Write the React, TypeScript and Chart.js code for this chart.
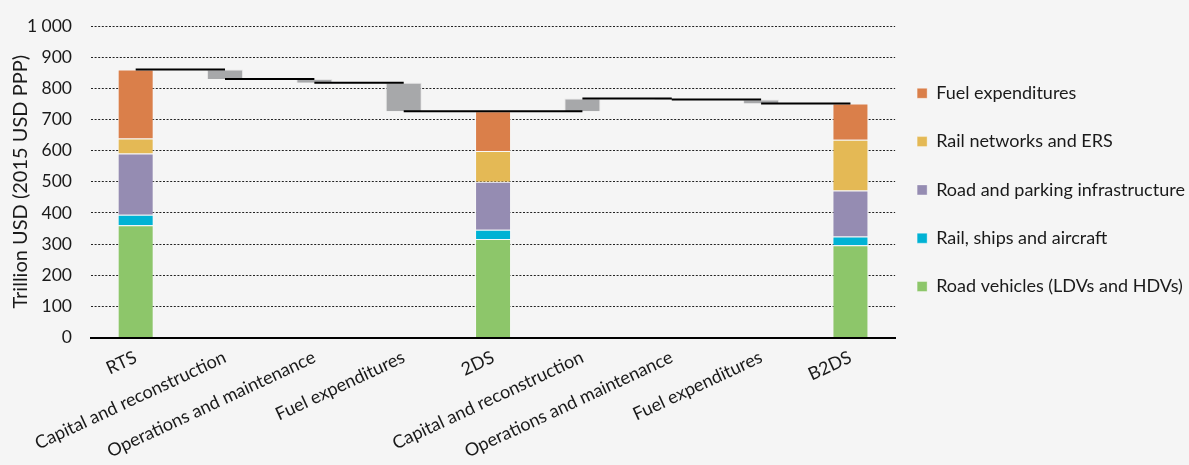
import { useEffect, useRef } from 'react';
import { Chart, registerables } from 'chart.js';

Chart.register(...registerables);

const categories = [
  'RTS',
  'Capital and reconstruction',
  'Operations and maintenance',
  'Fuel expenditures',
  '2DS',
  'Capital and reconstruction',
  'Operations and maintenance',
  'Fuel expenditures',
  'B2DS',
];

// Stacked scenario components (null at change categories)
const roadVehicles = [360, null, null, null, 316, null, null, null, 296];
const railShipsAircraft = [34, null, null, null, 30, null, null, null, 28];
const roadParking = [197, null, null, null, 154, null, null, null, 148];
const railNetworksERS = [48, null, null, null, 99, null, null, null, 163];
const fuelExpenditures = [221, null, null, null, 127, null, null, null, 116];

// Waterfall changes between scenarios (null at scenario categories)
const changes = [null, -30, -12, -92, null, 41, -3, -13, null];

const seriesNames = [
  'Road vehicles (LDVs and HDVs)',
  'Rail, ships and aircraft',
  'Road and parking infrastructure',
  'Rail networks and ERS',
  'Fuel expenditures',
];
const seriesColors = ['#8DC66A', '#00B2D4', '#958CB2', '#E4B955', '#DA7F4A'];

const yMin = 0;
const yMax = 1000;
const yStep = 100;
const yTitle = 'Trillion USD (2015 USD PPP)';

const FONT = 'Lato, "Noto Sans", sans-serif';
const TEXT = '#1a1a1a';

export default function App() {
  const ref = useRef<HTMLCanvasElement>(null);

  useEffect(() => {
    if (!ref.current) return;
    const series = [roadVehicles, railShipsAircraft, roadParking, railNetworksERS, fuelExpenditures];

    // running level through the waterfall
    const floats: (number[] | null)[] = [];
    const levels: number[] = [];
    let level = 0;
    categories.forEach((_, i) => {
      const c = changes[i];
      if (c === null) {
        level = series.reduce((s, arr) => s + (arr[i] ?? 0), 0);
        floats.push(null);
      } else {
        floats.push([level, level + c]);
        level += c;
      }
      levels.push(level);
    });

    const connector: { x: number; y: number | null }[] = [];
    for (let i = 0; i < categories.length - 1; i++) {
      connector.push({ x: i, y: levels[i] });
      connector.push({ x: i + 1, y: levels[i] });
      connector.push({ x: i + 1, y: null });
    }

    const barCommon = {
      type: 'bar' as const,
      barPercentage: 0.403,
      categoryPercentage: 1,
      grouped: false,
      borderWidth: 1,
      borderColor: 'rgba(255,255,255,0.35)',
      order: 2,
    };

    const datasets: any[] = series.map((arr, k) => ({
      ...barCommon,
      label: seriesNames[k],
      data: arr,
      backgroundColor: seriesColors[k],
      stack: 'main',
    }));

    datasets.push({
      ...barCommon,
      label: 'change',
      data: floats,
      backgroundColor: '#A7A8AA',
      borderColor: 'rgba(220,220,220,0.6)',
      stack: 'wf',
    });

    datasets.push({
      type: 'line',
      label: 'connector',
      data: connector,
      xAxisID: 'xLine',
      borderColor: '#000000',
      borderWidth: 2,
      pointRadius: 0,
      spanGaps: false,
      stack: 'line',
      order: 0,
    });

    const chart = new Chart(ref.current, {
      type: 'bar',
      data: { labels: categories, datasets },
      options: {
        responsive: false,
        animation: false,
        layout: { padding: { top: 26, right: -4.5, bottom: 0, left: 0 } },
        plugins: {
          tooltip: { enabled: false },
          legend: {
            position: 'right',
            align: 'start',
            reverse: true,
            title: { display: true, text: '', padding: { top: 0, bottom: 21.9 } },
            labels: {
              boxWidth: 10,
              boxHeight: 10,
              padding: 22,
              color: TEXT,
              font: { family: FONT, size: 18, lineHeight: '26.3px' },
              filter: (item: any) => item.datasetIndex < 5,
              generateLabels: (c: any) =>
                Chart.defaults.plugins.legend.labels
                  .generateLabels(c)
                  .map((l: any) => ({ ...l, text: [l.text] })),
            },
          },
        },
        scales: {
          x: {
            type: 'category',
            offset: true,
            grid: { display: true, drawOnChartArea: false, drawTicks: false },
            border: { display: true, color: '#000000', width: 2 },
            afterFit: (s: any) => {
              s.height = 127.5;
            },
            ticks: {
              color: TEXT,
              font: { family: FONT, size: 18 },
              minRotation: 25,
              maxRotation: 25,
              autoSkip: false,
              padding: 9,
            },
          },
          xLine: {
            type: 'linear',
            display: false,
            offset: false,
            grid: { offset: false },
            min: -0.5,
            max: categories.length - 0.5,
          },
          y: {
            stacked: true,
            min: yMin,
            max: yMax,
            grid: { color: '#222222', lineWidth: 1, drawTicks: false },
            border: { display: false, dash: [2, 1.6] },
            afterFit: (s: any) => {
              s.width = 91;
              s.paddingTop = 0;
              s.paddingBottom = 0;
            },
            ticks: {
              stepSize: yStep,
              color: TEXT,
              font: { family: FONT, size: 17.5 },
              padding: 19,
              callback: (v: any) => String(v).replace(/\B(?=(\d{3})+(?!\d))/g, ' '),
            },
            title: {
              display: true,
              text: yTitle,
              color: TEXT,
              font: { family: FONT, size: 20 },
              padding: { top: 9, bottom: 0 },
            },
          },
        },
      },
    });

    return () => chart.destroy();
  }, []);

  return (
    <div style={{ position: 'fixed', left: 0, top: 0, width: 1189, height: 465, background: '#F5F5F5' }}>
      <canvas ref={ref} width={1189} height={465} />
    </div>
  );
}
